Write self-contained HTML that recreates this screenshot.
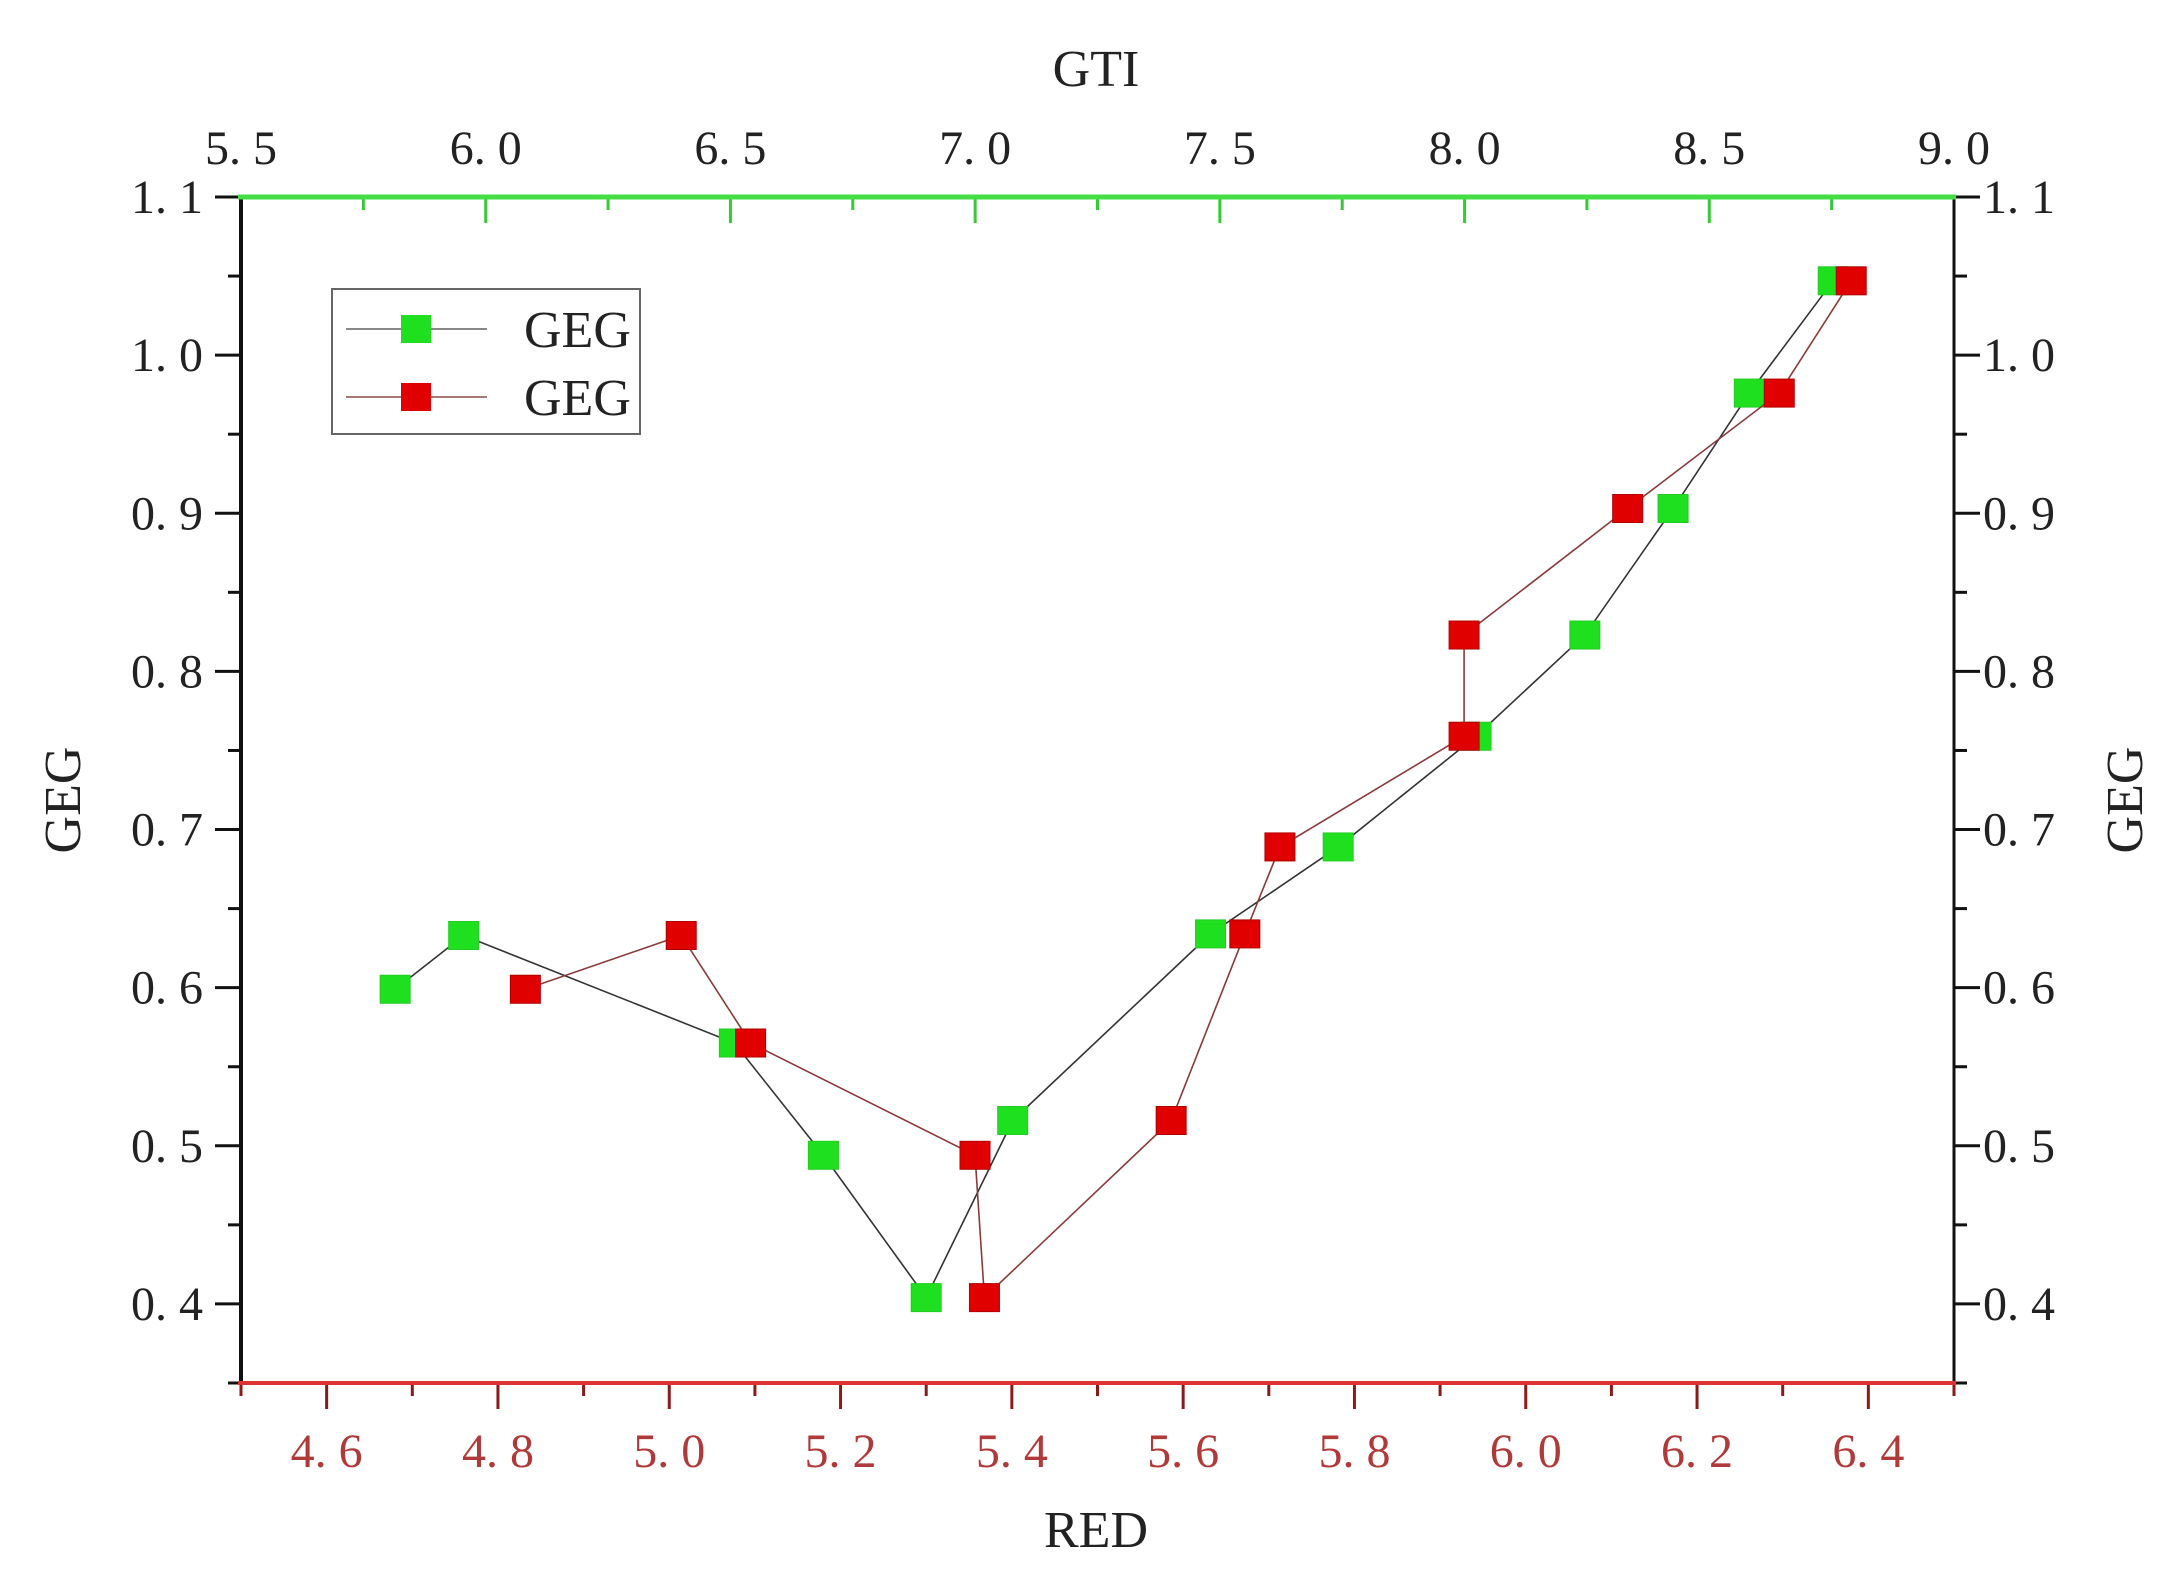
<!DOCTYPE html>
<html><head><meta charset="utf-8"><style>
html,body{margin:0;padding:0;background:#fff;}
svg{display:block;}
text{font-family:"Liberation Serif","Noto Serif CJK SC",serif;}
</style></head><body>
<svg id="chart" width="2182" height="1590" viewBox="0 0 2182 1590" xmlns="http://www.w3.org/2000/svg">
<g id="axes"></g>
<g id="series"></g>
<g id="legend"></g>
</svg>
<script>
const greenX = [4.680,4.760,5.076,5.180,5.300,5.401,5.632,5.781,5.942,6.069,6.172,6.261,6.359];
const greenY = [0.599,0.633,0.565,0.494,0.404,0.516,0.634,0.689,0.759,0.823,0.903,0.976,1.047];
const redX = [4.832,5.014,5.095,5.357,5.368,5.586,5.672,5.713,5.928,5.928,6.119,6.296,6.380];
const redY = [0.599,0.633,0.565,0.494,0.404,0.516,0.634,0.689,0.759,0.823,0.903,0.976,1.047];
const yTicks = ["0.4","0.5","0.6","0.7","0.8","0.9","1.0","1.1"];
const bottomTicks = ["4.6","4.8","5.0","5.2","5.4","5.6","5.8","6.0","6.2","6.4"];
const topTicks = ["5.5","6.0","6.5","7.0","7.5","8.0","8.5","9.0"];
const seriesNames = ["GEG","GEG"];

const L=241,R=1954,T=197,B=1383;
const X0=4.5,X1=6.5,Y0=0.35,Y1=1.1,G0=5.5,G1=9.0;
const sx=v=>L+(v-X0)/(X1-X0)*(R-L);
const sy=v=>B-(v-Y0)/(Y1-Y0)*(B-T);
const sg=v=>L+(v-G0)/(G1-G0)*(R-L);
const NS="http://www.w3.org/2000/svg";
function mk(tag,attrs,parent){const e=document.createElementNS(NS,tag);for(const k in attrs)e.setAttribute(k,attrs[k]);parent.appendChild(e);return e;}
const fmt=s=>s.replace('.','. ');
const axes=document.getElementById('axes');
const FS=48;

for(let v=0.35;v<=1.1001;v+=0.05){
  const y=sy(v);const major=Math.abs(Math.round(v*10)-v*10)<1e-6;
  const len=major?26:13;
  let t=mk('line',{x1:L-len,y1:y,x2:L,y2:y,stroke:'#111','stroke-width':3},axes);
  
  t=mk('line',{x1:R,y1:y,x2:R+len,y2:y,stroke:'#111','stroke-width':3},axes);
  
}
yTicks.forEach(s=>{
  const y=sy(parseFloat(s));
  let t=mk('text',{x:203,y:y+16,'text-anchor':'end','font-size':FS,fill:'#222'},axes);t.textContent=fmt(s);
  
  t=mk('text',{x:1983,y:y+16,'text-anchor':'start','font-size':FS,fill:'#222'},axes);t.textContent=fmt(s);
  
});
for(let v=4.5;v<=6.5001;v+=0.1){
  const x=sx(v);const major=Math.round(v*10)%2===0;
  const t=mk('line',{x1:x,y1:B,x2:x,y2:B+(major?26:13),stroke:'#8b1a1a','stroke-width':3},axes);
  
}
bottomTicks.forEach(s=>{
  const t=mk('text',{x:sx(parseFloat(s)),y:1467,'text-anchor':'middle','font-size':FS,fill:'#b03a3a'},axes);t.textContent=fmt(s);
  
});
for(let v=5.5;v<=9.0001;v+=0.25){
  const x=sg(v);const major=Math.abs(v*2-Math.round(v*2))<1e-6;
  const t=mk('line',{x1:x,y1:T,x2:x,y2:T+(major?26:13),stroke:'#33cc33','stroke-width':3},axes);
  
}
topTicks.forEach(s=>{
  const t=mk('text',{x:sg(parseFloat(s)),y:164,'text-anchor':'middle','font-size':FS,fill:'#222'},axes);t.textContent=fmt(s);
  
});
let a=mk('line',{x1:L,y1:T,x2:L,y2:B,stroke:'#111','stroke-width':4},axes);
a=mk('line',{x1:R,y1:T,x2:R,y2:B,stroke:'#111','stroke-width':3},axes);
a=mk('line',{x1:L-3,y1:B,x2:R+2,y2:B,stroke:'#d33','stroke-width':4},axes);
a=mk('line',{x1:L-3,y1:T,x2:R+2,y2:T,stroke:'#44dd44','stroke-width':5},axes);
let tt=mk('text',{x:1096,y:86,'text-anchor':'middle','font-size':52,fill:'#222'},axes);tt.textContent='GTI';

tt=mk('text',{x:1096,y:1547,'text-anchor':'middle','font-size':52,fill:'#222'},axes);tt.textContent='RED';

tt=mk('text',{x:0,y:0,'text-anchor':'middle','font-size':52,fill:'#222',transform:'translate(80,800) rotate(-90)'},axes);tt.textContent='GEG';

tt=mk('text',{x:0,y:0,'text-anchor':'middle','font-size':52,fill:'#222',transform:'translate(2142,800) rotate(-90)'},axes);tt.textContent='GEG';


const ser=document.getElementById('series');
function drawSeries(xs,ys,lineColor,fill,edge,name){
  const pts=xs.map((v,i)=>sx(v)+','+sy(ys[i])).join(' ');
  const pl=mk('polyline',{points:pts,fill:'none',stroke:lineColor,'stroke-width':1.6},ser);
  
  xs.forEach((v,i)=>{
    const r=mk('rect',{x:sx(v)-15,y:sy(ys[i])-14,width:30,height:28,fill:fill,stroke:edge,'stroke-width':1},ser);
    
  });
}
drawSeries(greenX,greenY,'#333','#1fe01f','#22cc22','green-series');
drawSeries(redX,redY,'#8a3a3a','#e00000','#b00000','red-series');

const lg=document.getElementById('legend');
let box=mk('rect',{x:332,y:289,width:308,height:145,fill:'#fff',stroke:'#666','stroke-width':2},lg);

const cols=[['#1fe01f','#888'],['#e00000','#a77']];
seriesNames.forEach((n,i)=>{
  const y=329+i*68;
  let l=mk('line',{x1:346,y1:y,x2:487,y2:y,stroke:cols[i][1],'stroke-width':2},lg);
  
  let r=mk('rect',{x:401,y:y-14,width:30,height:28,fill:cols[i][0]},lg);
  
  let t=mk('text',{x:524,y:y+18,'font-size':52,fill:'#222'},lg);t.textContent=n;
  
});
</script>
</body></html>
